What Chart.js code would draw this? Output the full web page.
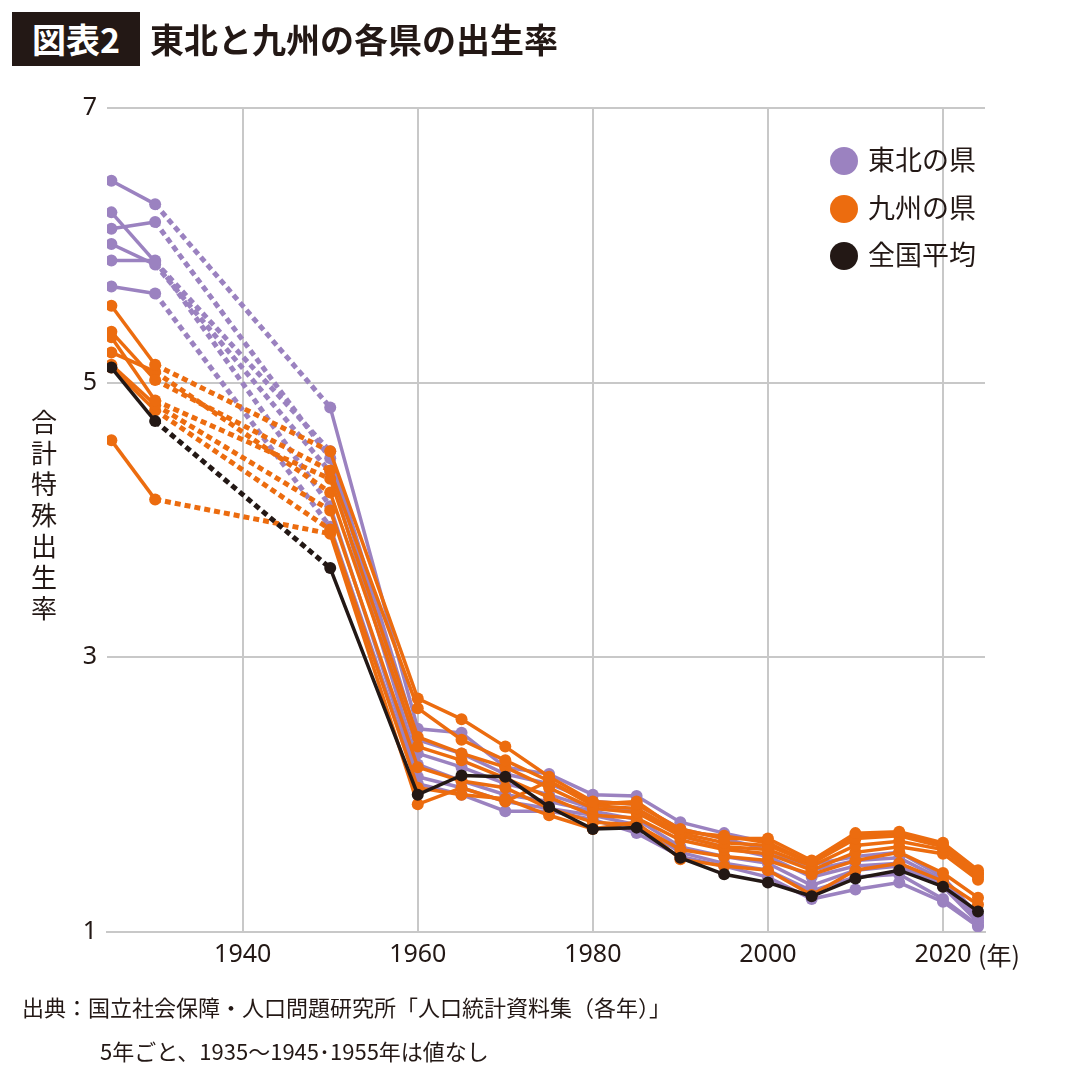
<!DOCTYPE html>
<html><head><meta charset="utf-8">
<script src="https://cdn.jsdelivr.net/npm/chart.js@4.4.0/dist/chart.umd.min.js"></script>
<style>
body{margin:0;background:#fff;font-family:"Noto Sans CJK JP","Noto Sans",sans-serif;}
#wrap{position:relative;width:1080px;height:1082px;}
canvas{position:absolute;left:0;top:0;}
.t{position:absolute;color:#231815;}
</style></head><body>
<div id="wrap">
<canvas id="c" width="1080" height="1082"></canvas>
<div class="t" style="left:12px;top:12px;width:128px;height:54px;background:#231815;color:#fff;font-weight:bold;font-size:34px;line-height:54px;text-align:center;">図表2</div>
<div class="t" style="left:150px;top:12px;font-weight:bold;font-size:34px;line-height:54px;">東北と九州の各県の出生率</div>
<div class="t" style="left:24px;top:405px;width:40px;font-size:26px;line-height:31px;text-align:center;">合<br>計<br>特<br>殊<br>出<br>生<br>率</div>
<div class="t" style="left:978px;top:936px;font-size:25px;">(年)</div>
<div class="t" style="left:22px;top:990px;font-size:22px;">出典：国立社会保障・人口問題研究所「人口統計資料集（各年）」</div>
<div class="t" style="left:100px;top:1034px;font-size:22px;">5年ごと、1935〜1945･1955年は値なし</div>
<div class="t" style="left:830px;top:135px;font-size:27px;line-height:47.5px;">
<div><span style="display:inline-block;width:28px;height:28px;border-radius:50%;background:#9b82c0;vertical-align:-5px;margin-right:10px"></span>東北の県</div>
<div><span style="display:inline-block;width:28px;height:28px;border-radius:50%;background:#ec6c0f;vertical-align:-5px;margin-right:10px"></span>九州の県</div>
<div><span style="display:inline-block;width:28px;height:28px;border-radius:50%;background:#231815;vertical-align:-5px;margin-right:10px"></span>全国平均</div>
</div>
</div>
<script>
const years=[1925,1930,1950,1960,1965,1970,1975,1980,1985,1990,1995,2000,2005,2010,2015,2020,2024];
const xTicks=[1940,1960,1980,2000,2020];
const yTicks=[1,3,5,7];
const national=[5.11,4.72,3.65,2.00,2.14,2.13,1.91,1.75,1.76,1.54,1.42,1.36,1.26,1.39,1.45,1.33,1.15];
const tohoku=[
[6.47,6.30,4.82,2.48,2.45,2.20,2.15,2.00,1.99,1.80,1.72,1.65,1.49,1.55,1.58,1.40,1.12],
[6.24,5.88,4.50,2.40,2.30,2.15,2.08,1.95,1.93,1.75,1.68,1.60,1.45,1.52,1.54,1.38,1.10],
[6.12,6.17,4.45,2.30,2.20,2.08,2.00,1.90,1.88,1.70,1.62,1.55,1.40,1.48,1.50,1.35,1.08],
[6.01,5.86,4.35,2.22,2.10,2.00,1.95,1.88,1.82,1.62,1.55,1.50,1.34,1.45,1.48,1.33,1.07],
[5.89,5.89,4.10,2.13,2.05,1.95,1.90,1.85,1.78,1.58,1.50,1.45,1.30,1.40,1.42,1.24,1.05],
[5.70,5.65,3.95,2.08,2.00,1.88,1.88,1.82,1.72,1.55,1.48,1.40,1.24,1.31,1.36,1.22,1.04]];
const kyushu=[
[5.56,5.13,4.50,2.70,2.55,2.35,2.13,1.95,1.93,1.75,1.68,1.68,1.52,1.72,1.73,1.65,1.45],
[5.37,5.02,4.36,2.63,2.40,2.25,2.10,1.92,1.90,1.72,1.65,1.63,1.50,1.68,1.70,1.62,1.42],
[5.33,4.87,4.30,2.42,2.30,2.20,2.05,1.90,1.87,1.70,1.62,1.60,1.48,1.63,1.66,1.60,1.40],
[5.22,5.08,4.20,2.35,2.25,2.12,1.98,1.85,1.83,1.67,1.60,1.57,1.45,1.58,1.62,1.57,1.38],
[5.13,4.84,4.07,2.20,2.10,2.05,1.90,1.80,1.78,1.60,1.55,1.52,1.42,1.52,1.58,1.43,1.25],
[5.11,4.80,3.93,2.05,2.00,1.97,1.85,1.75,1.80,1.53,1.48,1.45,1.27,1.45,1.50,1.37,1.20],
[4.58,4.15,3.90,1.93,2.05,1.95,2.10,1.93,1.95,1.73,1.70,1.65,1.50,1.70,1.71,1.63,1.43]];
const PURPLE='#9b82c0',ORANGE='#ec6c0f',BLACK='#231815';
function ds(vals,color){return{data:vals.map((v,i)=>({x:years[i],y:v})),borderColor:color,backgroundColor:color,borderWidth:3.5,pointRadius:6,pointHoverRadius:6,pointBorderWidth:0,
segment:{borderDash:c=>c.p0.parsed.x===1930?[6,4]:undefined,borderWidth:c=>c.p0.parsed.x===1930?5:3.5}};}
const datasets=[ds(national,BLACK)].concat(kyushu.map(v=>ds(v,ORANGE))).concat(tohoku.map(v=>ds(v,PURPLE)));
new Chart(document.getElementById('c'),{type:'line',data:{datasets},
options:{responsive:false,animation:false,layout:{padding:{left:47,top:108,right:95,bottom:105}},
plugins:{legend:{display:false},tooltip:{enabled:false}},
scales:{
x:{type:'linear',min:1924.5,max:2024.8,afterBuildTicks:s=>{s.ticks=xTicks.map(v=>({value:v}));},afterFit:s=>{s.height=45;},
grid:{color:'#c8c8c8',lineWidth:2,drawTicks:false},border:{color:'#c8c8c8',width:2},
ticks:{color:'#231815',font:{size:25,family:'Noto Sans'},padding:8,maxRotation:0,callback:v=>String(v)}},
y:{min:1,max:7,afterBuildTicks:s=>{s.ticks=yTicks.map(v=>({value:v}));},afterFit:s=>{s.width=60;},
grid:{color:'#c8c8c8',lineWidth:2,drawTicks:false},border:{display:false},
ticks:{color:'#231815',font:{size:25,family:'Noto Sans'},padding:10}}}}});
</script></body></html>
